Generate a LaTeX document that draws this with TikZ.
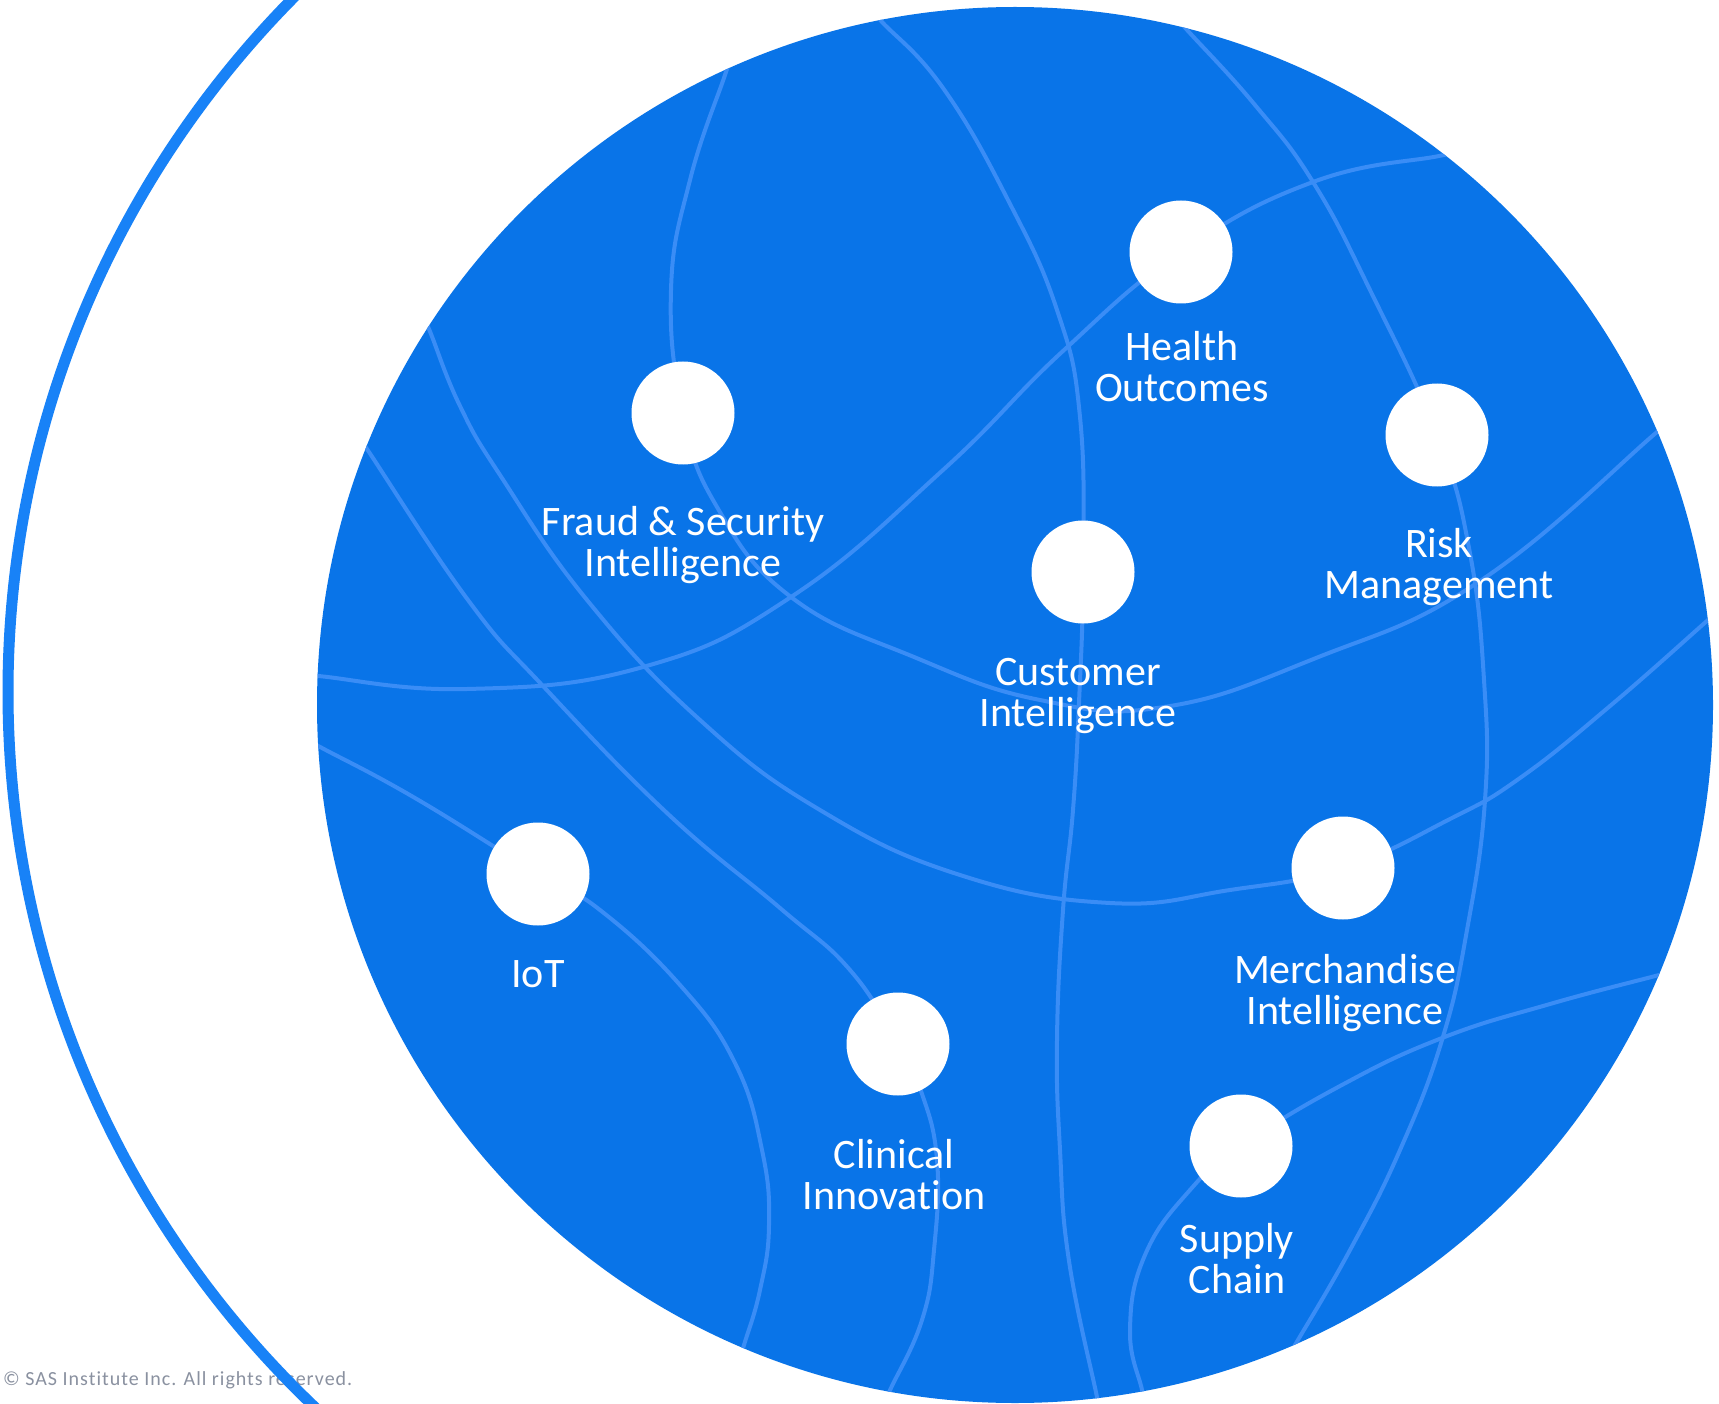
\documentclass[tikz,border=0pt]{standalone}
\usepackage{fontspec}
\setmainfont{Carlito}[Ligatures=NoCommon]
\newfontfamily\copyfont[LetterSpace=5,Ligatures=NoCommon]{Carlito}
\definecolor{globe}{RGB}{9,116,232}
\definecolor{wirec}{RGB}{58,141,246}
\definecolor{arcc}{RGB}{24,130,247}
\definecolor{copyc}{RGB}{138,145,160}
\newcommand{\labstrut}{\rule{0pt}{34pt}}
\begin{document}
\begin{tikzpicture}[x=1pt,y=-1pt,
  wire/.style={draw=wirec, line width=4pt},
  dot/.style={circle, fill=white, minimum size=103pt, inner sep=0pt},
  lbl/.style={text=white, font=\fontsize{42}{41}\selectfont, align=center, anchor=north, inner sep=0pt}]
\useasboundingbox (0,0) rectangle (1719,1404);
\fill[white] (0,0) rectangle (1719,1404);
\clip (0,0) rectangle (1719,1404);

\node[anchor=base west, inner sep=0pt, text=copyc, font=\copyfont\fontsize{20}{24}\selectfont] (copy) at (3,1385) {© SAS Institute Inc. All rights reserved.};

\fill[globe] (1015,705) circle[radius=698];

\coordinate (cHealth) at (1181,252);
\coordinate (cFraud) at (683,413);
\coordinate (cRisk) at (1437,435);
\coordinate (cCustomer) at (1083,572);
\coordinate (cIoT) at (538,874);
\coordinate (cMerch) at (1343,868);
\coordinate (cClinical) at (898,1044);
\coordinate (cSupply) at (1241,1146);

\begin{scope}
\clip (1015,705) circle[radius=698];
\draw[wire] plot[smooth, tension=0.75] coordinates {(730,60) (725,75) (690,180) (671,290) (cFraud) (717,507) (791,597) (914,657) (1040,700) (1164,707) (1316,658) (1480,581) (1657,432) (1672,419)};
\draw[wire] plot[smooth, tension=0.75] coordinates {(303,675) (318,676) (467,689) (643,667) (791,597) (943,470) (1063,351) (cHealth) (1313,182) (1439,156) (1454,153)};
\draw[wire] plot[smooth, tension=0.75] coordinates {(870,10) (882,22) (943,88) (1008,200) (1057,310) (1080,417) (cCustomer) (1079,703) (1073,810) (1063,910) (1057,1040) (1060,1150) (1069,1261) (1097,1397) (1100,1412)};
\draw[wire] plot[smooth, tension=0.75] coordinates {(1178,20) (1188,31) (1255,105) (1313,182) (1370,290) (cRisk) (1469,548) (1484,680) (1485,800) (1467,930) (1442,1040) (1400,1150) (1350,1250) (1295,1345) (1287,1358)};
\draw[wire] plot[smooth, tension=0.75] coordinates {(427,324) (431,334) (460,406) (500,475) (587,600) (700,720) (820,810) (960,875) (1110,903) (1230,890) (cMerch) (1450,819) (1520,778) (1610,706) (1708,620) (1719,610)};
\draw[wire] plot[smooth, tension=0.75] coordinates {(361,440) (367,449) (468,600) (543,686) (667,813) (780,908) (850,970) (cClinical) (921,1091) (937,1160) (934,1250) (922,1320) (891,1388) (886,1398)};
\draw[wire] plot[smooth, tension=0.75] coordinates {(309,741) (322,748) (415,798) (cIoT) (600,910) (680,985) (735,1063) (762,1150) (769,1225) (760,1290) (744,1345) (740,1358)};
\draw[wire] plot[smooth, tension=0.75] coordinates {(1673,971) (1659,975) (1550,1004) (1442,1038) (1340,1086) (cSupply) (1190,1190) (1145,1255) (1130,1330) (1142,1390) (1145,1405)};
\end{scope}

\node[dot] (health) at (cHealth) {};
\node[dot] (fraud) at (cFraud) {};
\node[dot] (risk) at (cRisk) {};
\node[dot] (customer) at (cCustomer) {};
\node[dot] (iot) at (cIoT) {};
\node[dot] (merch) at (cMerch) {};
\node[dot] (clinical) at (cClinical) {};
\node[dot] (supply) at (cSupply) {};

\node[lbl] (healthL) at (1182,326) {\labstrut Health\\Outcomes};
\node[lbl] (fraudL) at (683,501) {\labstrut Fraud \& Security\\Intelligence};
\node[lbl] (riskL) at (1439,523) {\labstrut Risk\\Management};
\node[lbl] (customerL) at (1078,651) {\labstrut Customer\\Intelligence};
\node[lbl] (iotL) at (538,953) {\labstrut IoT};
\node[lbl] (merchL) at (1345,949) {\labstrut Merchandise\\Intelligence};
\node[lbl] (clinicalL) at (894,1134) {\labstrut Clinical\\Innovation};
\node[lbl] (supplyL) at (1237,1218) {\labstrut Supply\\Chain};

\begin{scope}
\clip (0,0) rectangle (700,1404);
\draw[arcc, line width=11pt] (995,692) circle[radius=987];
\end{scope}
\end{tikzpicture}
\end{document}
